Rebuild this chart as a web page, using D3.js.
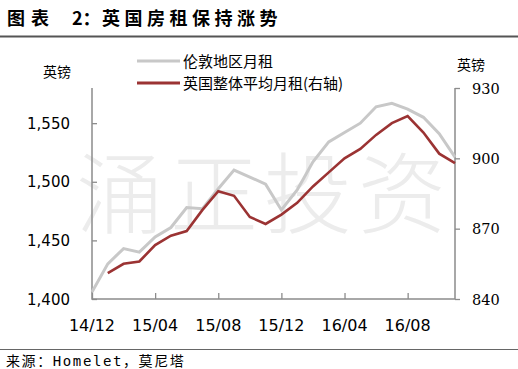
<!DOCTYPE html>
<html lang="zh">
<head>
<meta charset="UTF-8" />
<title>图表 2：英国房租保持涨势</title>
<style>
  body { margin: 0; background: #fff; }
  svg { display: block; }
  .cjk { font-family: "Noto Sans CJK SC", sans-serif; }
</style>
</head>
<body>
<svg width="518" height="369"></svg>
<script src="https://cdnjs.cloudflare.com/ajax/libs/d3/7.8.5/d3.min.js"></script>
<script>
// months 14/12 .. 16/11
const months = ["14/12","15/01","15/02","15/03","15/04","15/05","15/06","15/07","15/08","15/09","15/10","15/11",
                "15/12","16/01","16/02","16/03","16/04","16/05","16/06","16/07","16/08","16/09","16/10","16/11"];
const tickLabels = ["14/12","15/04","15/08","15/12","16/04","16/08"];

// London monthly rent (left axis)
const london = [1406,1430,1443,1440,1453,1461,1478,1477,1494,1510,1504,1498,
                1476,1493,1517,1534,1542,1550,1564,1567,1562,1555,1541,1521];
// UK average monthly rent (right axis), starts 15/01
const uk = [null,851,855,856,863,867,869,878,886,884,875,872,
            876,881,888,894,900,904,910,915,918,911,902,898];

const leftTicks = [1400,1450,1500,1550];
const rightTicks = [840,870,900,930];

const svg = d3.select("svg");
const plotL = 92, plotR = 455, plotT = 88, plotB = 299;

const x = d3.scaleLinear().domain([0, months.length - 1]).range([plotL, plotR]);
const yL = d3.scaleLinear().domain([1400, 1580]).range([plotB, plotT]);
const yR = d3.scaleLinear().domain([840, 930]).range([plotB, plotT]);

// header
const title = svg.append("g").attr("class", "cjk")
  .style("font-size", "18px").style("font-weight", "bold").attr("fill", "#000");
title.append("text").attr("x", 7).attr("y", 25).style("letter-spacing", "6px").text("图表");
title.append("text").attr("x", 72).attr("y", 25).text("2：");
title.append("text").attr("x", 102).attr("y", 25).style("letter-spacing", "4.5px").text("英国房租保持涨势");
svg.append("line").attr("x1", 0).attr("x2", 518).attr("y1", 36.5).attr("y2", 36.5)
  .attr("stroke", "#555").attr("stroke-width", 2);

// watermark
svg.append("text").attr("class", "cjk")
  .attr("x", 76).attr("y", 226)
  .style("font-size", "88px").style("font-weight", 300)
  .style("letter-spacing", "6px")
  .attr("fill", "#ececec")
  .text("涌正投资");

// axes
const axisColor = "#8c8c8c";
const gL = svg.append("g").attr("transform", `translate(${plotL},0)`)
  .call(d3.axisRight(yL).tickValues(leftTicks).tickSize(5).tickFormat(""));
const gR = svg.append("g").attr("transform", `translate(${plotR},0)`)
  .call(d3.axisRight(yR).tickValues(rightTicks).tickSize(5).tickFormat(""));
const gB = svg.append("g").attr("transform", `translate(0,${plotB})`)
  .call(d3.axisTop(x).tickValues(tickLabels.map(m => months.indexOf(m))).tickSize(6).tickFormat(""));
[gL, gR, gB].forEach(g => {
  g.select(".domain").remove();
  g.selectAll("line").attr("stroke", axisColor).attr("stroke-width", 1.3);
});
svg.append("path")
  .attr("d", `M${plotL},${plotT}V${plotB}H${plotR}V${plotT}`)
  .attr("fill", "none").attr("stroke", axisColor).attr("stroke-width", 1.5);

// tick labels
svg.append("g").selectAll("text").data(leftTicks).join("text")
  .attr("x", 70).attr("y", d => yL(d) + 5.5)
  .attr("text-anchor", "end")
  .style("font-family", "DejaVu Sans, sans-serif").style("font-size", "15px")
  .text(d => d3.format(",")(d));
svg.append("g").selectAll("text").data(rightTicks).join("text")
  .attr("x", 472).attr("y", d => yR(d) + 5.5)
  .style("font-family", "DejaVu Serif, serif").style("font-size", "14.5px")
  .text(d => d);
svg.append("g").selectAll("text").data(tickLabels).join("text")
  .attr("x", d => x(months.indexOf(d))).attr("y", plotB + 32)
  .attr("text-anchor", "middle")
  .style("font-family", "DejaVu Sans, sans-serif").style("font-size", "16px")
  .text(d => d);

// unit labels
svg.append("text").attr("class", "cjk").attr("x", 43).attr("y", 77)
  .style("font-size", "14px").text("英镑");
svg.append("text").attr("class", "cjk").attr("x", 457).attr("y", 70)
  .style("font-size", "14px").text("英镑");

// lines
const lineL = d3.line().x((d, i) => x(i)).y(d => yL(d));
const lineR = d3.line().defined(d => d != null).x((d, i) => x(i)).y(d => yR(d));
svg.append("path").datum(london).attr("d", lineL)
  .attr("fill", "none").attr("stroke", "#c8c8c8").attr("stroke-width", 3);
svg.append("path").datum(uk).attr("d", lineR)
  .attr("fill", "none").attr("stroke", "#9b3333").attr("stroke-width", 2.6);

// legend
const legend = [
  {name: "伦敦地区月租", color: "#c8c8c8", y: 61},
  {name: "英国整体平均月租(右轴)", color: "#9b3333", y: 83}
];
const lg = svg.append("g").selectAll("g").data(legend).join("g");
lg.append("line").attr("x1", 137).attr("x2", 180)
  .attr("y1", d => d.y).attr("y2", d => d.y)
  .attr("stroke", d => d.color).attr("stroke-width", 3);
lg.append("text").attr("class", "cjk").attr("x", 183).attr("y", d => d.y + 5.5)
  .style("font-size", "15px").text(d => d.name);

// footer
svg.append("line").attr("x1", 0).attr("x2", 518).attr("y1", 349.5).attr("y2", 349.5)
  .attr("stroke", "#666").attr("stroke-width", 1);
svg.append("text").attr("x", 6).attr("y", 366)
  .style("font-family", "'DejaVu Sans Mono', 'Noto Sans CJK SC', monospace")
  .style("font-size", "14px").style("letter-spacing", "1.6px")
  .text("来源：Homelet，莫尼塔");
</script>
</body>
</html>
